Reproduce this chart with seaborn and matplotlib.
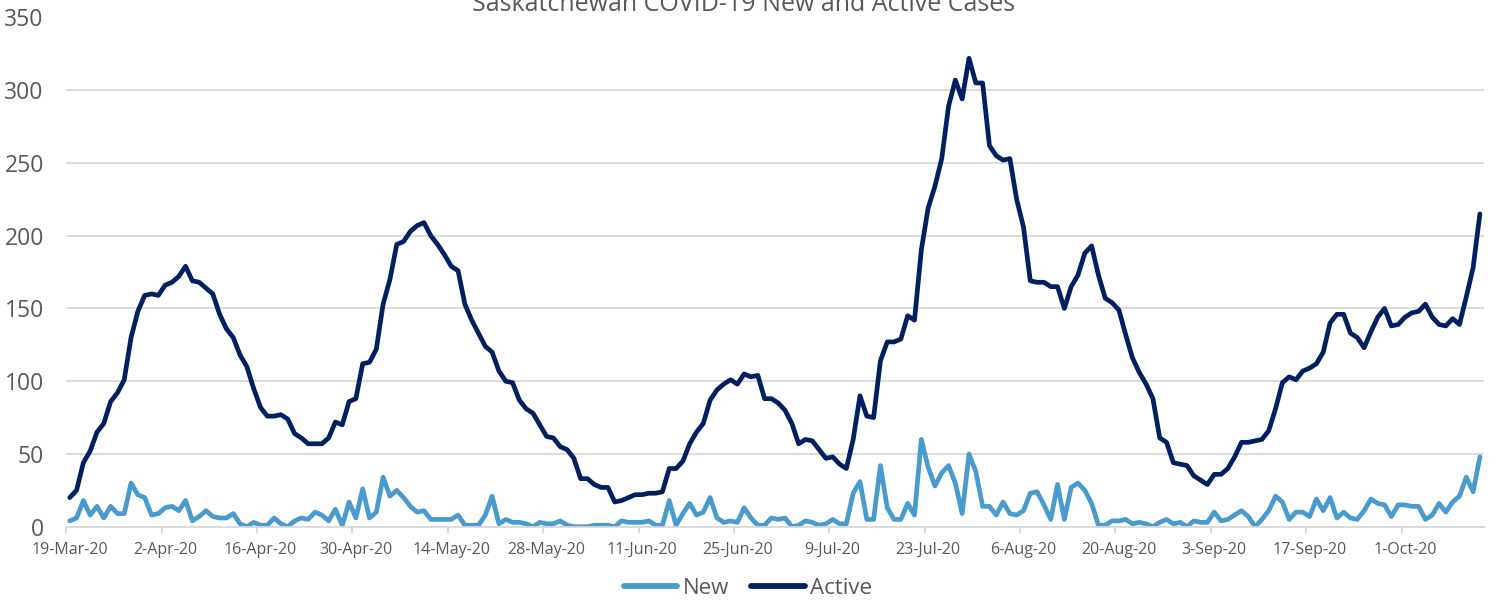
import pandas as pd
import matplotlib
matplotlib.use("Agg")
import matplotlib.pyplot as plt
import matplotlib.dates as mdates
import seaborn as sns

sns.set_theme(style="white")
plt.rcParams["font.family"] = ["Open Sans", "DejaVu Sans"]

# Daily values, 19-Mar-20 onwards
active_cases = [
    20, 25, 44, 52, 65, 71, 86, 92, 101, 130,
    148, 159, 160, 159, 166, 168, 172, 179, 169, 168,
    164, 160, 146, 136, 130, 118, 110, 95, 82, 76,
    76, 77, 74, 64, 61, 57, 57, 57, 61, 72,
    70, 86, 88, 112, 113, 122, 153, 170, 194, 196,
    203, 207, 209, 200, 194, 187, 179, 176, 153, 142,
    133, 124, 120, 107, 100, 99, 87, 81, 78, 70,
    62, 61, 55, 53, 47, 33, 33, 29, 27, 27,
    17, 18, 20, 22, 22, 23, 23, 24, 40, 40,
    45, 57, 65, 71, 87, 94, 98, 101, 98, 105,
    103, 104, 88, 88, 85, 80, 71, 57, 60, 59,
    53, 47, 48, 43, 40, 60, 90, 76, 75, 114,
    127, 127, 129, 145, 142, 190, 219, 234, 253, 289,
    307, 294, 322, 305, 305, 262, 255, 252, 253, 225,
    206, 169, 168, 168, 165, 165, 150, 165, 173, 188,
    193, 173, 157, 154, 149, 132, 116, 106, 98, 88,
    61, 58, 44, 43, 42, 35, 32, 29, 36, 36,
    40, 48, 58, 58, 59, 60, 66, 81, 99, 103,
    101, 107, 109, 112, 120, 140, 146, 146, 133, 130,
    123, 134, 144, 150, 138, 139, 144, 147, 148, 153,
    144, 139, 138, 143, 139, 158, 178, 215,
]
new_cases = [
    4, 6, 18, 8, 14, 6, 14, 9, 9, 30,
    22, 20, 8, 9, 13, 14, 11, 18, 4, 7,
    11, 7, 6, 6, 9, 2, 0, 3, 1, 1,
    6, 2, 0, 4, 6, 5, 10, 8, 4, 12,
    1, 17, 6, 26, 6, 10, 34, 21, 25, 20,
    14, 10, 11, 5, 5, 5, 5, 8, 1, 1,
    1, 8, 21, 2, 5, 3, 3, 2, 0, 3,
    2, 2, 4, 1, 0, 0, 0, 1, 1, 1,
    0, 4, 3, 3, 3, 4, 1, 1, 18, 1,
    9, 16, 8, 10, 20, 6, 3, 4, 3, 13,
    6, 1, 1, 6, 5, 6, 0, 1, 4, 3,
    1, 2, 5, 2, 2, 23, 31, 5, 5, 42,
    13, 5, 5, 16, 8, 60, 41, 28, 37, 42,
    30, 9, 50, 38, 14, 14, 8, 17, 9, 8,
    11, 23, 24, 15, 5, 29, 5, 27, 30, 25,
    16, 1, 1, 4, 4, 5, 2, 3, 2, 0,
    3, 5, 2, 3, 0, 4, 3, 3, 10, 4,
    5, 8, 11, 7, 0, 5, 11, 21, 17, 5,
    10, 10, 7, 19, 11, 20, 6, 10, 6, 5,
    11, 19, 16, 15, 7, 15, 15, 14, 14, 5,
    8, 16, 10, 17, 21, 34, 24, 48,
]
dates = pd.date_range("2020-03-19", periods=len(active_cases), freq="D")

NEW_COLOR = "#4A9BCD"
ACTIVE_COLOR = "#002060"
TEXT_COLOR = "#595959"
GRID_COLOR = "#D9D9D9"

df = pd.DataFrame({"date": dates, "New": new_cases, "Active": active_cases})
long_df = df.melt(id_vars="date", var_name="series", value_name="cases")

fig = plt.figure(figsize=(14.96, 6.04), dpi=100)
ax = fig.add_axes([66 / 1496, 1 - 526.7 / 604, (1484 - 66) / 1496, (526.7 - 17.5) / 604])

sns.lineplot(data=long_df, x="date", y="cases", hue="series",
             palette={"New": NEW_COLOR, "Active": ACTIVE_COLOR},
             linewidth=3.4, ax=ax)
for line in ax.lines:
    line.set_solid_joinstyle("round")
    line.set_solid_capstyle("round")

# y axis
ax.set_ylim(0, 350)
ax.set_yticks(range(0, 351, 50))
ax.yaxis.grid(True, color=GRID_COLOR, linewidth=1.3)
ax.xaxis.grid(False)
ax.set_axisbelow(True)
for side in ["left", "right", "top"]:
    ax.spines[side].set_visible(False)
ax.spines["bottom"].set_color(GRID_COLOR)
ax.spines["bottom"].set_linewidth(1.3)

# x axis: label every 14 days, tick marks between days
first = mdates.date2num(dates[0])
last = mdates.date2num(dates[-1])
ax.set_xlim(first - 0.55, last + 0.6)
tick_dates = dates[::14]
ax.set_xticks(mdates.date2num(tick_dates))
ax.set_xticklabels([d.strftime("%-d-%b-%y") for d in tick_dates])
ax.set_xticks(mdates.date2num(tick_dates) - 0.5, minor=True)
ax.tick_params(axis="x", which="major", length=0, pad=11, labelsize=11.5, labelcolor=TEXT_COLOR)
ax.tick_params(axis="x", which="minor", bottom=True, length=4, width=1.3, color=GRID_COLOR)
ax.tick_params(axis="y", length=0, pad=16, labelsize=16.5, labelcolor=TEXT_COLOR)
ax.set_xlabel("")
ax.set_ylabel("")

# title sits partly above the top edge, as in the source image
fig.text(744 / 1496, 1 - 11 / 604, "Saskatchewan COVID-19 New and Active Cases",
         ha="center", va="baseline", fontsize=18, color=TEXT_COLOR)

handles, labels = ax.get_legend_handles_labels()
leg = ax.legend(handles, labels, loc="center", bbox_to_anchor=(0.5, 1 - 588 / 604),
                bbox_transform=fig.transFigure, ncol=2, frameon=False, fontsize=16,
                handlelength=2.4, handletextpad=0.25, columnspacing=1.0,
                labelcolor=TEXT_COLOR)
for h in leg.get_lines():
    h.set_linewidth(4.2)

fig.savefig("out.png", dpi=100)
